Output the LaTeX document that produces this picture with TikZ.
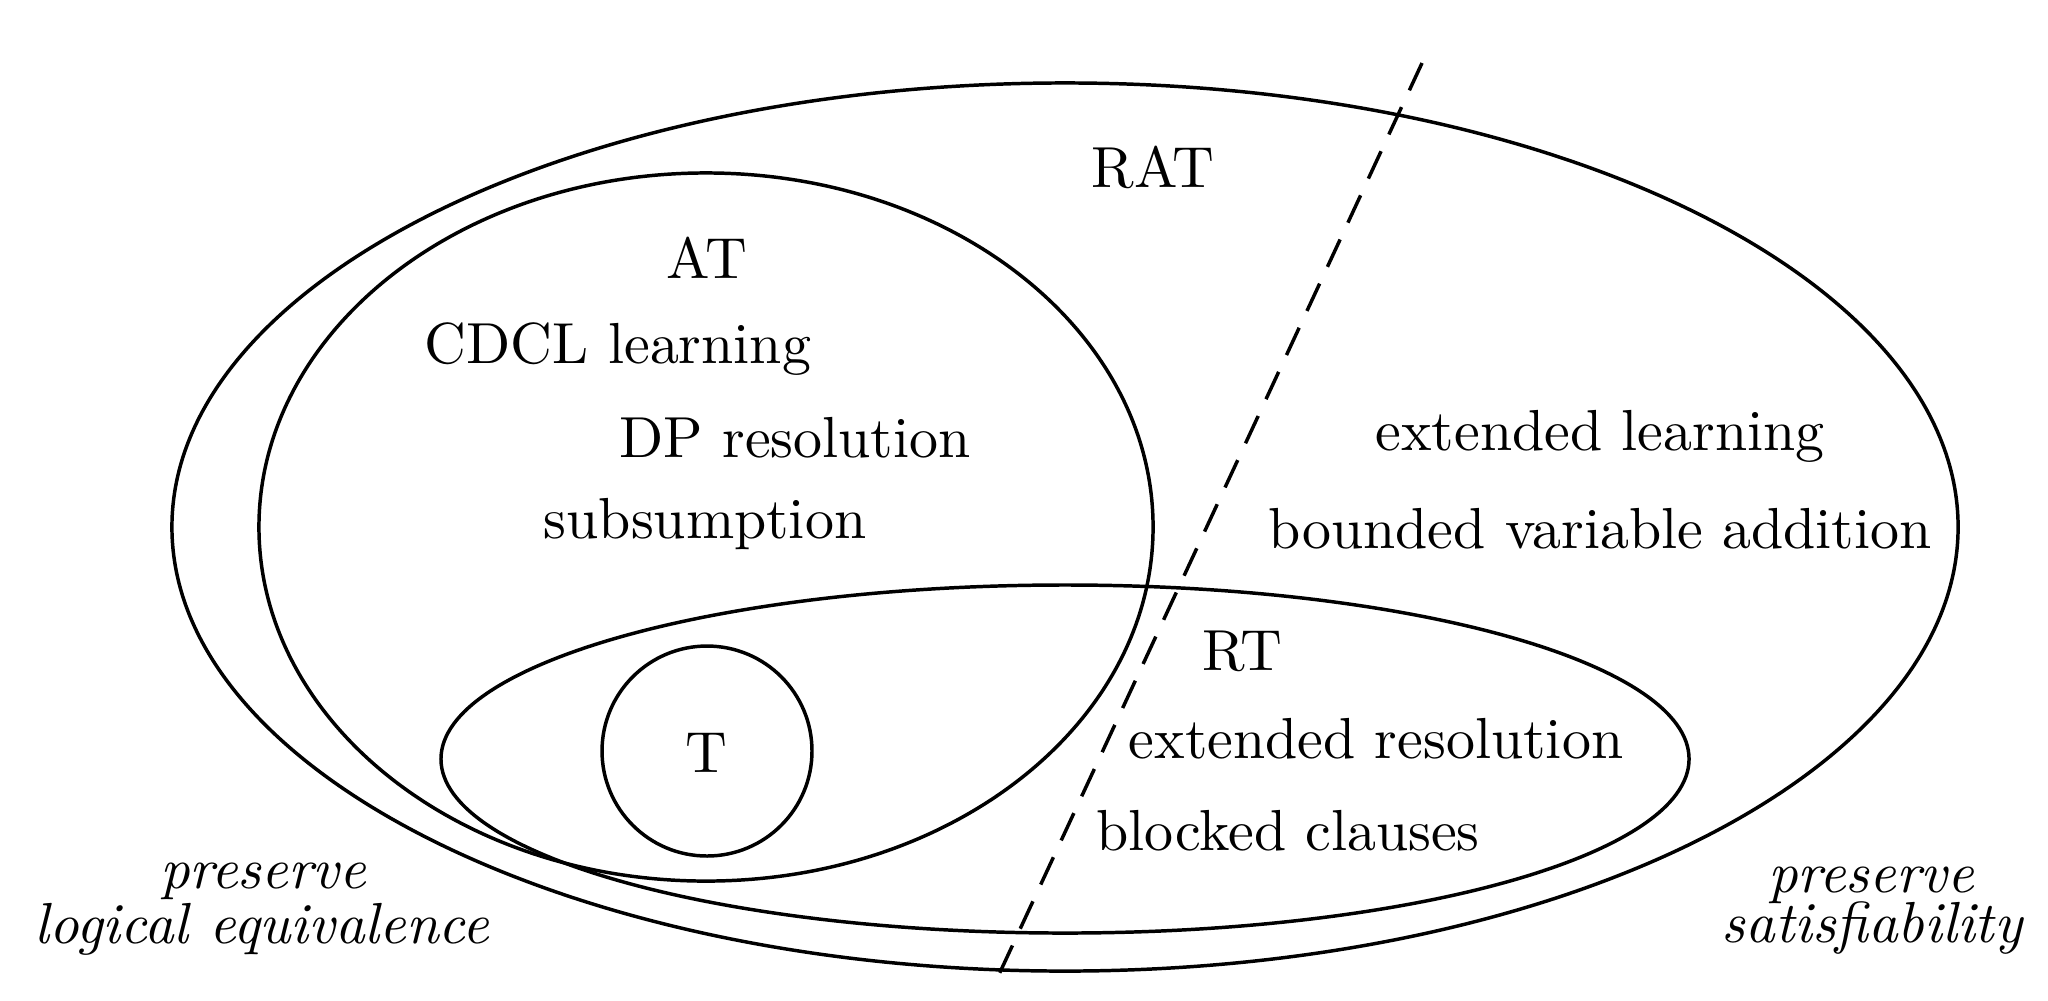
\documentclass[tikz,border=0pt]{standalone}
\begin{document}
\begin{tikzpicture}[x=0.17269pt,y=-0.17269pt,
  setline/.style={line width=0.6pt},
  lbl/.style={anchor=base,inner sep=0pt,font=\fontsize{10}{12}\selectfont},
  ilbl/.style={lbl,font=\fontsize{10}{12}\selectfont\itshape}]
\useasboundingbox (0,0) rectangle (2048,1000);
% sets
\draw[setline] (1065,527) ellipse [x radius=154.22pt, y radius=76.68pt];
\draw[setline] (706,527) ellipse [x radius=77.20pt, y radius=61.14pt];
\draw[setline] (1065,759) ellipse [x radius=107.76pt, y radius=30.05pt];
\draw[setline] (707,751) circle [radius=18.13pt];
% dividing line
\coordinate (dtop) at (1422,63);
\coordinate (dbot) at (995,983);
\draw[setline,dash pattern=on 5.2pt off 3.2pt] (dtop) -- (dbot);
% labels
\node[lbl] (rat) at (1153,187) {RAT};
\node[lbl] (at) at (707,278) {AT};
\node[lbl] (cdcl) at (618,363) {CDCL learning};
\node[lbl] (dp) at (795,457) {DP resolution};
\node[lbl] (sub) at (705,538) {subsumption};
\node[lbl] (extl) at (1600,450) {extended learning};
\node[lbl] (bva) at (1600,548) {bounded variable addition};
\node[lbl] (rt) at (1242,670) {RT};
\node[lbl] (extr) at (1376,758) {extended resolution};
\node[lbl] (bc) at (1288,850) {blocked clauses};
\node[lbl] (t) at (706,772) {T};
\node[ilbl] (pl1) at (263,888) {preserve};
\node[ilbl] (pl2) at (262,943) {logical equivalence};
\node[ilbl] (ps1) at (1871,892) {preserve};
\node[ilbl] (ps2) at (1872,942) {satisfiability};
\end{tikzpicture}
\end{document}
